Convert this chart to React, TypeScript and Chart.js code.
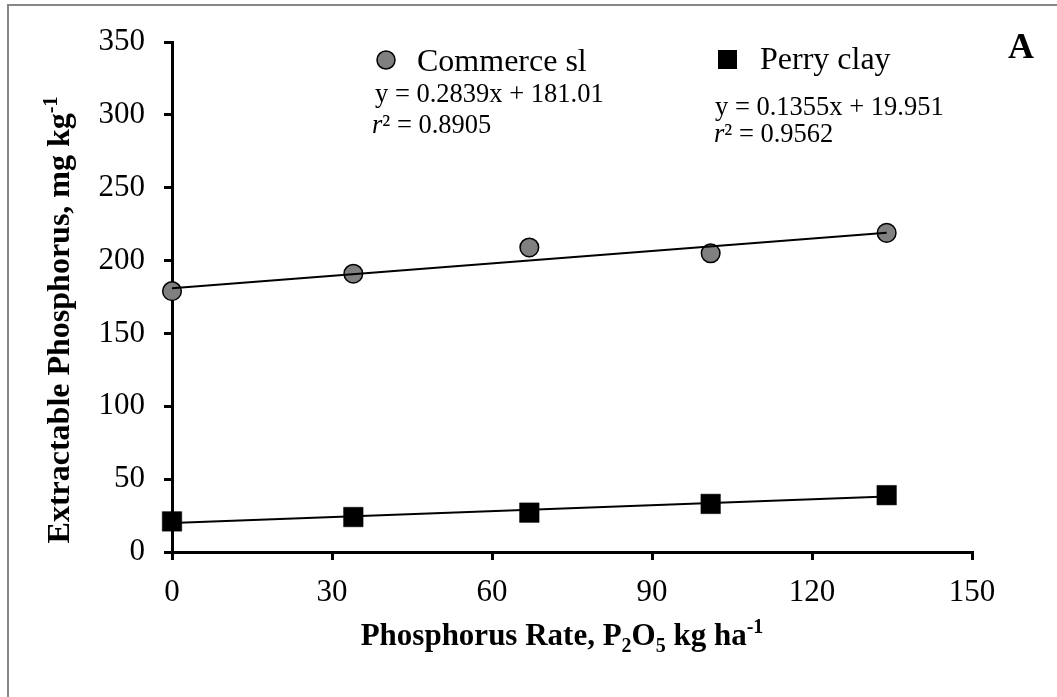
import React, { useEffect, useRef } from "react";
import { Chart, registerables } from "chart.js";

Chart.register(...registerables);

// ---- data ----
const rates = [0, 34, 67, 101, 134];
const commerceSl = [179, 191, 209, 205, 219];
const perryClay = [21, 24, 27, 33, 39];

const commerceSlope = 0.2839;
const commerceIntercept = 181.01;
const perrySlope = 0.1355;
const perryIntercept = 19.951;
const trendRange = [0, 134];

const xTicks = [0, 30, 60, 90, 120, 150];
const yTicks = [0, 50, 100, 150, 200, 250, 300, 350];

const seriesNames = ["Commerce sl", "Perry clay"];
const equations = ["y = 0.2839x + 181.01", "y = 0.1355x + 19.951"];
const rSquared = ["0.8905", "0.9562"];
const panelLabel = "A";

const SERIF = "'Liberation Serif', 'Times New Roman', serif";

type Run = { text: string; font: string; dy: number };

function runsWidth(ctx: CanvasRenderingContext2D, runs: Run[]) {
  let w = 0;
  for (const r of runs) {
    ctx.font = r.font;
    w += ctx.measureText(r.text).width;
  }
  return w;
}

function drawRuns(ctx: CanvasRenderingContext2D, runs: Run[], x: number, y: number) {
  let cx = x;
  for (const r of runs) {
    ctx.font = r.font;
    ctx.fillText(r.text, cx, y + r.dy);
    cx += ctx.measureText(r.text).width;
  }
}

const annotations = {
  id: "annotations",
  afterDraw(chart: any) {
    const ctx: CanvasRenderingContext2D = chart.ctx;
    ctx.save();
    ctx.fillStyle = "#000";
    ctx.textBaseline = "alphabetic";
    ctx.textAlign = "left";

    const bold = `bold 31px ${SERIF}`;
    const boldSmall = `bold 20px ${SERIF}`;

    // x title
    const xRuns: Run[] = [
      { text: "Phosphorus Rate, P", font: bold, dy: 0 },
      { text: "2", font: boldSmall, dy: 7 },
      { text: "O", font: bold, dy: 0 },
      { text: "5", font: boldSmall, dy: 7 },
      { text: " kg ha", font: bold, dy: 0 },
      { text: "-1", font: boldSmall, dy: -12 },
    ];
    const xw = runsWidth(ctx, xRuns);
    drawRuns(ctx, xRuns, 562 - xw / 2, 645);

    // y title
    const yBold = `bold 32px ${SERIF}`;
    const yRuns: Run[] = [
      { text: "Extractable Phosphorus, mg kg", font: yBold, dy: 0 },
      { text: "-1", font: boldSmall, dy: -12 },
    ];
    const yw = runsWidth(ctx, yRuns);
    ctx.save();
    ctx.translate(69, 320);
    ctx.rotate(-Math.PI / 2);
    drawRuns(ctx, yRuns, -yw / 2, 0);
    ctx.restore();

    // legend markers
    ctx.beginPath();
    ctx.arc(386, 60, 9, 0, Math.PI * 2);
    ctx.fillStyle = "#808080";
    ctx.fill();
    ctx.lineWidth = 1.5;
    ctx.strokeStyle = "#000";
    ctx.stroke();
    ctx.fillStyle = "#000";
    ctx.fillRect(718, 50, 19, 19);

    // legend texts
    ctx.font = `32px ${SERIF}`;
    ctx.fillText(seriesNames[0], 417, 71);
    ctx.fillText(seriesNames[1], 760, 69);

    // equations
    const eqFont = `26.5px ${SERIF}`;
    const itFont = `italic 26.5px ${SERIF}`;
    ctx.font = eqFont;
    ctx.fillText(equations[0], 375, 102);
    ctx.fillText(equations[1], 715, 115);
    drawRuns(ctx, [
      { text: "r", font: itFont, dy: 0 },
      { text: "\u00B2 = " + rSquared[0], font: eqFont, dy: 0 },
    ], 372, 133);
    drawRuns(ctx, [
      { text: "r", font: itFont, dy: 0 },
      { text: "\u00B2 = " + rSquared[1], font: eqFont, dy: 0 },
    ], 714, 142);

    // panel label
    ctx.font = `bold 36px ${SERIF}`;
    ctx.fillText(panelLabel, 1008, 58);

    ctx.restore();
  },
};

export default function App() {
  const ref = useRef<HTMLCanvasElement>(null);

  useEffect(() => {
    if (!ref.current) return;
    const toPts = (ys: number[]) => rates.map((x, i) => ({ x, y: ys[i] }));
    const trend = (m: number, b: number) => trendRange.map((x) => ({ x, y: m * x + b }));

    const chart = new Chart(ref.current, {
      type: "scatter",
      data: {
        datasets: [
          {
            label: "Commerce trend",
            data: trend(commerceSlope, commerceIntercept),
            showLine: true,
            borderColor: "#000",
            borderWidth: 2,
            pointRadius: 0,
            fill: false,
            clip: false,
          },
          {
            label: "Perry trend",
            data: trend(perrySlope, perryIntercept),
            showLine: true,
            borderColor: "#000",
            borderWidth: 2,
            pointRadius: 0,
            fill: false,
            clip: false,
          },
          {
            label: seriesNames[0],
            data: toPts(commerceSl),
            pointStyle: "circle",
            pointRadius: 9.3,
            pointBackgroundColor: "#808080",
            pointBorderColor: "#000",
            pointBorderWidth: 1.5,
            clip: false,
          },
          {
            label: seriesNames[1],
            data: toPts(perryClay),
            pointStyle: "rect",
            pointRadius: 13.8,
            pointBackgroundColor: "#000",
            pointBorderColor: "#000",
            pointBorderWidth: 0.5,
            clip: false,
          },
        ],
      } as any,
      options: {
        animation: false,
        responsive: false,
        maintainAspectRatio: false,
        layout: { padding: { left: 0, top: 42, right: 85, bottom: 0 } },
        plugins: {
          legend: { display: false },
          tooltip: { enabled: false },
        },
        scales: {
          x: {
            type: "linear",
            min: 0,
            max: 150,
            afterFit: (s: any) => { s.height = 145; },
            afterBuildTicks: (s: any) => { s.ticks = xTicks.map((v) => ({ value: v })); },
            grid: { drawOnChartArea: false, drawTicks: true, tickLength: 8, color: "#000", lineWidth: 3 },
            border: { display: true, color: "#000", width: 3 },
            ticks: { color: "#000", font: { family: SERIF, size: 31 }, padding: 14, maxRotation: 0 },
          },
          y: {
            type: "linear",
            min: 0,
            max: 350,
            afterFit: (s: any) => { s.width = 172; },
            afterBuildTicks: (s: any) => { s.ticks = yTicks.map((v) => ({ value: v })); },
            grid: { drawOnChartArea: false, drawTicks: true, tickLength: 8, color: "#000", lineWidth: 3 },
            border: { display: true, color: "#000", width: 3 },
            ticks: { color: "#000", font: { family: SERIF, size: 31 }, padding: 19 },
          },
        },
      } as any,
      plugins: [annotations],
    });
    return () => chart.destroy();
  }, []);

  return (
    <div style={{ position: "fixed", left: 0, top: 0, width: 1057, height: 697, background: "#fff", overflow: "hidden" }}>
      <div
        style={{
          position: "absolute",
          left: 7,
          top: 4,
          width: 1100,
          height: 750,
          borderTop: "2px solid #878787",
          borderLeft: "2px solid #878787",
        }}
      />
      <canvas ref={ref} width={1057} height={697} style={{ position: "absolute", left: 0, top: 0 }} />
    </div>
  );
}
